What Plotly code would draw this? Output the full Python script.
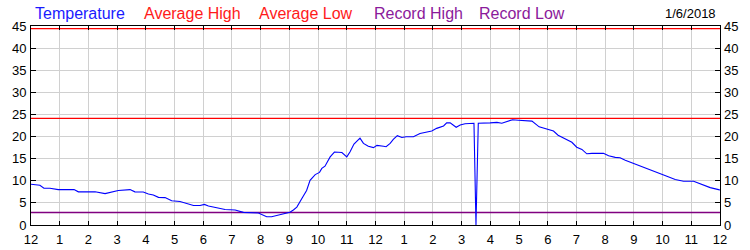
import plotly.graph_objects as go

hours = [0.00, 0.31, 0.45, 0.66, 0.95, 1.36, 1.50, 1.65, 2.23, 2.58, 2.80, 3.04, 3.45, 3.62, 3.91,
         4.09, 4.26, 4.44, 4.67, 4.90, 5.19, 5.48, 5.66, 5.89, 6.04, 6.18, 6.47, 6.76, 7.11, 7.40,
         7.92, 8.04, 8.21, 8.38, 8.56, 8.85, 9.02, 9.14, 9.26, 9.43, 9.60, 9.72, 9.90, 10.05, 10.13,
         10.24, 10.42, 10.57, 10.83, 11.00, 11.11, 11.25, 11.46, 11.58, 11.75, 11.93, 12.05, 12.28,
         12.37, 12.51, 12.62, 12.76, 12.92, 13.07, 13.20, 13.32, 13.55, 13.73, 13.96, 14.13, 14.37,
         14.48, 14.60, 14.81, 14.95, 15.12, 15.43, 15.50, 15.58, 15.99, 16.23, 16.40, 16.57, 16.77,
         16.98, 17.45, 17.70, 17.97, 18.20, 18.36, 18.55, 18.70, 18.84, 19.01, 19.19, 19.36, 19.54,
         19.94, 20.12, 20.35, 20.52, 20.70, 20.99, 21.22, 21.57, 21.86, 22.15, 22.44, 22.73, 23.08,
         23.31, 23.66, 23.95, 24.00]
temperature = [9.2, 9.0, 8.3, 8.3, 8.0, 8.1, 8.0, 7.5, 7.5, 7.1, 7.4, 7.8, 8.0, 7.5, 7.45,
               7.0, 6.8, 6.25, 6.2, 5.5, 5.3, 4.7, 4.4, 4.4, 4.65, 4.3, 3.9, 3.5, 3.4, 2.85,
               2.7, 2.4, 1.85, 1.85, 2.15, 2.5, 2.9, 3.4, 4.05, 5.95, 7.8, 10.1, 11.4, 11.9, 12.8,
               13.3, 15.4, 16.5, 16.4, 15.4, 16.5, 18.3, 19.65, 18.45, 17.8, 17.5, 18.0, 17.8,
               17.7, 18.45, 19.35, 20.2, 19.8, 19.95, 20.0, 19.95, 20.7, 20.95, 21.25, 21.85, 22.4,
               23.1, 23.1, 22.1, 22.6, 22.9, 23.0, 0.0, 23.0, 23.1, 23.2, 23.0, 23.4, 23.8,
               23.7, 23.5, 22.2, 21.6, 21.25, 20.3, 19.7, 19.1, 18.7, 17.6, 17.1, 16.1, 16.2,
               16.2, 15.65, 15.3, 15.2, 14.65, 13.9, 13.3, 12.4, 11.6, 11.0, 10.3, 9.9, 9.9,
               9.35, 8.45, 8.0, 7.9]

avg_high = 24.1
top_red = 44.4
record_low = 2.8

x_tickvals = list(range(0, 25))
x_ticktext = ["12"] + [str(i) for i in range(1, 12)] + ["12"] + [str(i) for i in range(1, 12)] + ["12"]
y_tickvals = list(range(0, 46, 5))

legend_labels = ["Temperature", "Average High", "Average Low", "Record High", "Record Low"]
legend_colors = ["#1a1aff", "#ff1a1a", "#ff1a1a", "#8b1a9b", "#8b1a9b"]
legend_x = [33, 142, 257, 372, 477]
date_label = "1/6/2018"

FONT = "Liberation Sans, Arial, sans-serif"

W, H = 750, 250
L, R, T, B = 31, 30, 26, 25
pw, ph = W - L - R, H - T - B

fig = go.Figure()
fig.add_trace(go.Scatter(x=[0, 24], y=[top_red, top_red], mode="lines",
                         line=dict(color="#ff0000", width=1.2), hoverinfo="skip"))
fig.add_trace(go.Scatter(x=[0, 24], y=[avg_high, avg_high], mode="lines",
                         line=dict(color="#ff0000", width=1.2), hoverinfo="skip"))
fig.add_trace(go.Scatter(x=[0, 24], y=[record_low, record_low], mode="lines",
                         line=dict(color="#800080", width=1.5), hoverinfo="skip"))
fig.add_trace(go.Scatter(x=hours, y=temperature, mode="lines",
                         line=dict(color="#0000ff", width=1.1)))
fig.add_trace(go.Scatter(x=[0], y=[0], mode="markers", marker=dict(opacity=0),
                         yaxis="y2", hoverinfo="skip"))


def px(x):
    return (x - L) / pw


def py(y_top):
    return (H - y_top - B) / ph


for lbl, col, lx in zip(legend_labels, legend_colors, legend_x):
    fig.add_annotation(text=lbl, x=px(lx), y=py(13), xref="paper", yref="paper",
                       showarrow=False, xanchor="left", yanchor="middle",
                       font=dict(family=FONT, size=16, color=col))
fig.add_annotation(text=date_label, x=px(718), y=py(13), xref="paper", yref="paper",
                   showarrow=False, xanchor="right", yanchor="middle",
                   font=dict(family=FONT, size=13, color="#000000"))

fig.update_layout(
    width=W, height=H,
    margin=dict(l=L, r=R, t=T, b=B, autoexpand=False),
    paper_bgcolor="white", plot_bgcolor="white",
    showlegend=False,
    font=dict(family=FONT, size=13, color="#000000"),
    xaxis=dict(range=[0, 24], tickvals=x_tickvals, ticktext=x_ticktext, automargin=False,
               showgrid=True, gridcolor="#d0d0d0", gridwidth=1,
               showline=True, linecolor="black", linewidth=1, mirror="ticks",
               ticks="inside", ticklen=4, tickcolor="black", zeroline=False,
               ticklabelstandoff=2,
               tickfont=dict(family=FONT, size=13, color="#000000")),
    yaxis=dict(range=[0, 45], tickvals=y_tickvals, automargin=False,
               showgrid=True, gridcolor="#d0d0d0", gridwidth=1,
               showline=True, linecolor="black", linewidth=1, mirror=True,
               ticks="inside", ticklen=5, tickcolor="black", zeroline=False,
               ticklabelstandoff=1,
               tickfont=dict(family=FONT, size=13, color="#000000")),
    yaxis2=dict(range=[0, 45], tickvals=y_tickvals, overlaying="y", side="right",
                automargin=False,
                showgrid=False, showline=False, ticks="inside", ticklen=5,
                tickcolor="black", zeroline=False, ticklabelstandoff=3,
                tickfont=dict(family=FONT, size=13, color="#000000")),
)

fig.write_html("out.html")
